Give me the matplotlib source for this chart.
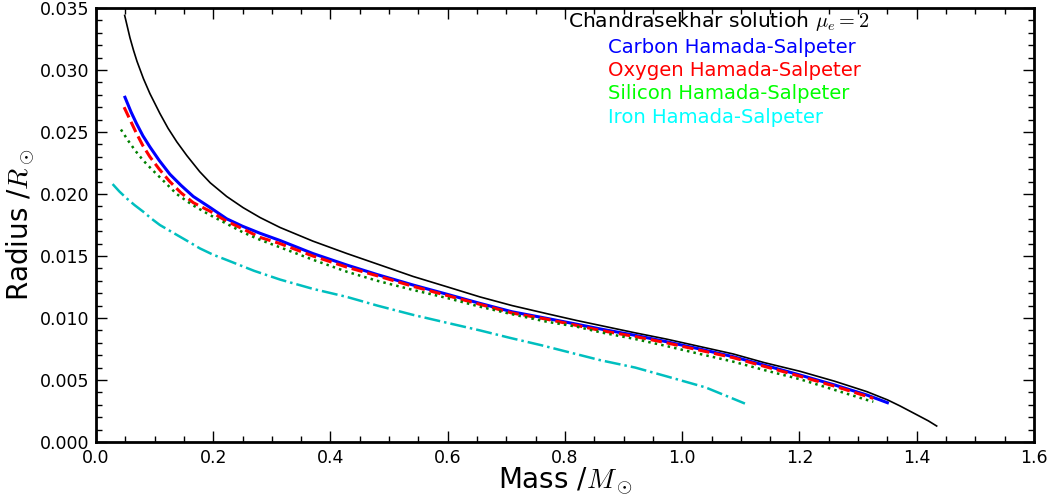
import matplotlib
matplotlib.use("Agg")
import matplotlib.pyplot as plt
from matplotlib.ticker import MultipleLocator

plt.rcParams["mathtext.fontset"] = "cm"
plt.rcParams["font.family"] = "DejaVu Sans"

# Mass-radius relations (mass in solar masses, radius in solar radii)
chandra_m = [0.049, 0.058, 0.064, 0.070, 0.081, 0.092, 0.109, 0.123, 0.138,
             0.155, 0.177, 0.195, 0.223, 0.251, 0.280, 0.314, 0.370, 0.428,
             0.480, 0.541, 0.600, 0.655, 0.710, 0.769, 0.820, 0.860, 0.920,
             0.973, 1.030, 1.087, 1.140, 1.201, 1.260, 1.315, 1.350, 1.371,
             1.400, 1.420, 1.434]
chandra_r = [0.0344, 0.0326, 0.0316, 0.0307, 0.0293, 0.0281, 0.0265, 0.0253,
             0.0242, 0.0231, 0.0218, 0.0209, 0.0198, 0.0189, 0.0181, 0.0173,
             0.0162, 0.0152, 0.01435, 0.01335, 0.0125, 0.0117, 0.0110,
             0.01035, 0.0098, 0.0094, 0.0088, 0.0083, 0.0077, 0.0071,
             0.0064, 0.0057, 0.0049, 0.00406, 0.0034, 0.00292, 0.0022,
             0.0017, 0.00129]

carbon_m = [0.0495, 0.060, 0.069, 0.080, 0.092, 0.108, 0.126, 0.145, 0.166,
            0.195, 0.223, 0.250, 0.280, 0.314, 0.370, 0.428, 0.480, 0.541,
            0.600, 0.655, 0.710, 0.769, 0.820, 0.860, 0.920, 0.973, 1.030,
            1.087, 1.140, 1.201, 1.260, 1.315, 1.350]
carbon_r = [0.0278, 0.0266, 0.0257, 0.0247, 0.0238, 0.0227, 0.0216, 0.0207,
            0.0198, 0.0189, 0.0180, 0.0174, 0.01683, 0.01625, 0.0152, 0.01427,
            0.0135, 0.01266, 0.0119, 0.01118, 0.0105, 0.00997, 0.0095,
            0.00912, 0.0086, 0.00809, 0.0075, 0.00688, 0.0062, 0.0054, 0.0046,
            0.00379, 0.00317]

oxygen_m = [0.048, 0.060, 0.069, 0.080, 0.092, 0.108, 0.126, 0.145, 0.166,
            0.195, 0.223, 0.250, 0.280, 0.314, 0.370, 0.428, 0.480, 0.541,
            0.600, 0.655, 0.710, 0.769, 0.820, 0.860, 0.920, 0.973, 1.030,
            1.087, 1.140, 1.201, 1.260, 1.326]
oxygen_r = [0.0270, 0.0258, 0.0249, 0.0239, 0.0230, 0.0220, 0.0210, 0.0201,
            0.0193, 0.0186, 0.0178, 0.0172, 0.0165, 0.0160, 0.0150, 0.0141,
            0.0134, 0.01255, 0.0118, 0.0111, 0.0104, 0.0099, 0.0094, 0.0090,
            0.0085, 0.0080, 0.0074, 0.0068, 0.0061, 0.0053, 0.0045, 0.00352]

silicon_m = [0.0426, 0.055, 0.067, 0.0807, 0.095, 0.110, 0.1376, 0.165,
             0.1945, 0.223, 0.251, 0.280, 0.314, 0.370, 0.428, 0.480, 0.541,
             0.600, 0.655, 0.710, 0.769, 0.820, 0.860, 0.920, 0.973, 1.030,
             1.087, 1.140, 1.201, 1.260, 1.315, 1.326]
silicon_r = [0.0252, 0.0243, 0.0235, 0.0227, 0.0220, 0.0213, 0.0200, 0.0191,
             0.0183, 0.0176, 0.0169, 0.0163, 0.0157, 0.0147, 0.01373, 0.0130,
             0.01226, 0.0116, 0.01091, 0.0103, 0.0097, 0.0093, 0.00885,
             0.0083, 0.00774, 0.0071, 0.00648, 0.0058, 0.00506, 0.0042,
             0.00339, 0.00325]

iron_m = [0.0284, 0.040, 0.0523, 0.066, 0.0807, 0.095, 0.109, 0.138, 0.160,
          0.177, 0.200, 0.223, 0.270, 0.314, 0.370, 0.428, 0.480, 0.541,
          0.600, 0.655, 0.706, 0.760, 0.810, 0.860, 0.920, 0.973, 1.040,
          1.107]
iron_r = [0.0208, 0.0202, 0.01965, 0.0191, 0.01857, 0.0180, 0.0175, 0.0167,
          0.0161, 0.01562, 0.0151, 0.01468, 0.0138, 0.0131, 0.01235, 0.0117,
          0.0110, 0.01025, 0.0096, 0.0090, 0.0084, 0.0078, 0.0072, 0.0066,
          0.0060, 0.0053, 0.0044, 0.0031]

labels = ["Chandrasekhar solution $\\mu_e=2$", "Carbon Hamada-Salpeter",
          "Oxygen Hamada-Salpeter", "Silicon Hamada-Salpeter",
          "Iron Hamada-Salpeter"]
label_colors = ["black", "#0000ff", "#ff0000", "#00ff00", "#00ffff"]

fig = plt.figure(figsize=(10.51, 5.0), dpi=100)
ax = fig.add_axes([0.0913, 0.116, 0.8925, 0.868])

ax.plot(chandra_m, chandra_r, color="black", lw=1.2, ls="-")
ax.plot(carbon_m, carbon_r, color="#0000ff", lw=2.2, ls="-")
ax.plot(oxygen_m, oxygen_r, color="#ff0000", lw=2.2, ls="--")
ax.plot(silicon_m, silicon_r, color="#008000", lw=1.8, ls=":")
ax.plot(iron_m, iron_r, color="#00bfbf", lw=1.8, ls="-.")

ax.set_xlim(0.0, 1.6)
ax.set_ylim(0.0, 0.035)
ax.xaxis.set_major_locator(MultipleLocator(0.2))
ax.xaxis.set_minor_locator(MultipleLocator(0.05))
ax.yaxis.set_major_locator(MultipleLocator(0.005))
ax.yaxis.set_minor_locator(MultipleLocator(0.001))
ax.xaxis.set_major_formatter(plt.FormatStrFormatter("%.1f"))
ax.yaxis.set_major_formatter(plt.FormatStrFormatter("%.3f"))
ax.tick_params(which="both", direction="in", top=True, right=True,
               labelsize=12.5)
ax.tick_params(which="major", length=8, width=1.0, pad=5)
ax.tick_params(which="minor", length=4, width=1.0)
for sp in ax.spines.values():
    sp.set_linewidth(2.0)

ax.set_xlabel("Mass /$M_\\odot$", fontsize=20, labelpad=-1)
ax.set_ylabel("Radius /$R_\\odot$", fontsize=20, labelpad=2)

# Key entries as coloured text
ax.text(0.503, 0.9555, labels[0], transform=ax.transAxes, fontsize=14.6,
        color=label_colors[0], va="baseline", ha="left")
for i, (lab, col) in enumerate(zip(labels[1:], label_colors[1:])):
    ax.text(0.546, 0.897 - 0.0537 * i, lab, transform=ax.transAxes,
            fontsize=14.1, color=col, va="baseline", ha="left")

fig.savefig("out.png", dpi=100)
